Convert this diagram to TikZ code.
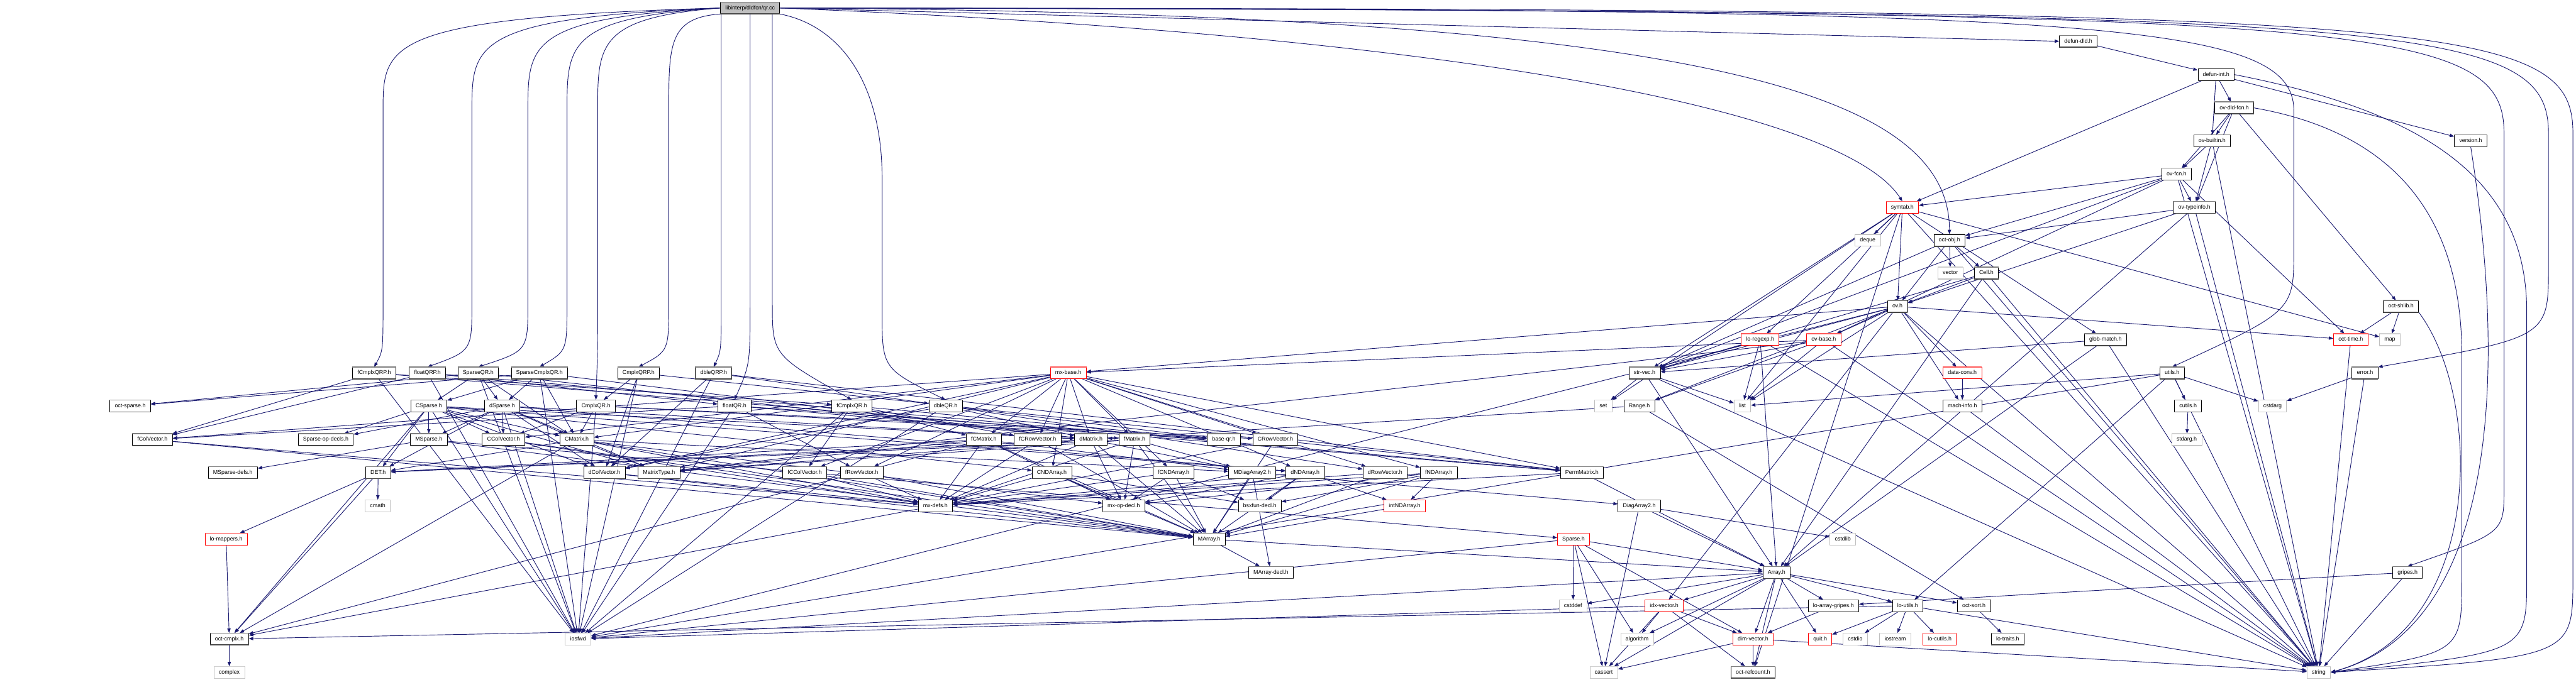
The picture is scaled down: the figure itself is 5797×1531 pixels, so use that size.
\documentclass[tikz,border=0pt]{standalone}
\usepackage{fontspec}
\setmainfont{Liberation Sans}
\usetikzlibrary{arrows.meta}
\definecolor{edgeblue}{RGB}{25,25,112}
\definecolor{rbd}{RGB}{255,0,0}
\definecolor{gbd}{RGB}{191,191,191}
\pgfdeclarelayer{bgl}\pgfdeclarelayer{edl}\pgfsetlayers{bgl,edl,main}
\tikzset{
 base/.style={rectangle, inner xsep=11pt, inner ysep=0pt, minimum height=26pt, text height=9.3pt, text depth=2.7pt, font=\fontsize{12.6}{14}\selectfont, line width=1.1pt, fill=white},
 nbox/.style={base, draw=black},
 rbox/.style={base, draw=rbd},
 gbox/.style={base, draw=gbd},
 qbox/.style={base, draw=black, fill=black!25},
 edg/.style={draw=edgeblue, line width=1.3pt, -{Triangle[length=10pt,width=7.5pt]}},
}
\newcommand\qrdown[3]{\draw[edg] (qr.#3) .. controls (#2,40) and (#2,100) .. (#2,250) -- (#2,680) .. controls (#2,790) .. (#1.north);}
\begin{document}
\begin{tikzpicture}[x=1pt,y=-1pt]
\begin{pgfonlayer}{bgl}
\fill[white] (0,0) rectangle (5797,1531);
\end{pgfonlayer}
\useasboundingbox (0,0) rectangle (5797,1531);
% nodes
\node[qbox] (qr) at (1688,18) {libinterp/dldfcn/qr.cc};
\node[nbox] (fcqrp) at (842,840) {fCmplxQRP.h};
\node[nbox] (flqrp) at (962,840) {floatQRP.h};
\node[nbox] (sqr) at (1076,840) {SparseQR.h};
\node[nbox] (scqr) at (1214,840) {SparseCmplxQR.h};
\node[nbox] (cqrp) at (1437,840) {CmplxQRP.h};
\node[nbox] (dqrp) at (1606,840) {dbleQRP.h};
\node[rbox] (mxbase) at (2404,840) {mx-base.h};
\node[nbox] (octsparse) at (293,914) {oct-sparse.h};
\node[nbox] (csparse) at (965,914) {CSparse.h};
\node[nbox] (dsparse) at (1130,914) {dSparse.h};
\node[nbox] (cqr) at (1341,914) {CmplxQR.h};
\node[nbox] (flqr) at (1653,914) {floatQR.h};
\node[nbox] (fcqr) at (1917,914) {fCmplxQR.h};
\node[nbox] (dqr) at (2128,914) {dbleQR.h};
\node[nbox] (fcolv) at (343,990) {fColVector.h};
\node[nbox] (spopd) at (733,990) {Sparse-op-decls.h};
\node[nbox] (msparse) at (965,990) {MSparse.h};
\node[nbox] (ccolv) at (1133,990) {CColVector.h};
\node[nbox] (cmat) at (1298,990) {CMatrix.h};
\node[nbox] (fcmat) at (2214,990) {fCMatrix.h};
\node[nbox] (fcrowv) at (2335,990) {fCRowVector.h};
\node[nbox] (dmat) at (2455,990) {dMatrix.h};
\node[nbox] (fmat) at (2553,990) {fMatrix.h};
\node[nbox] (baseqr) at (2754,990) {base-qr.h};
\node[nbox] (crowv) at (2870,990) {CRowVector.h};
\node[nbox] (msdefs) at (524,1064) {MSparse-defs.h};
\node[nbox] (det) at (851,1064) {DET.h};
\node[nbox] (dcolv) at (1360,1064) {dColVector.h};
\node[nbox] (mtype) at (1483,1064) {MatrixType.h};
\node[nbox] (fccolv) at (1811,1064) {fCColVector.h};
\node[nbox] (frowv) at (1939,1064) {fRowVector.h};
\node[nbox] (cnd) at (2367,1064) {CNDArray.h};
\node[nbox] (fcnd) at (2641,1064) {fCNDArray.h};
\node[nbox] (mdiag) at (2818,1064) {MDiagArray2.h};
\node[nbox] (dnd) at (2937,1064) {dNDArray.h};
\node[nbox] (drowv) at (3117,1064) {dRowVector.h};
\node[nbox] (fnd) at (3238,1064) {fNDArray.h};
\node[nbox] (perm) at (3560,1064) {PermMatrix.h};
\node[gbox] (cmath) at (850,1139) {cmath};
\node[nbox] (mxdefs) at (2105,1139) {mx-defs.h};
\node[nbox] (mxop) at (2529,1139) {mx-op-decl.h};
\node[nbox] (bsx) at (2835,1139) {bsxfun-decl.h};
\node[rbox] (intnd) at (3161,1139) {intNDArray.h};
\node[nbox] (diag2) at (3689,1139) {DiagArray2.h};
\node[rbox] (lomap) at (509,1214) {lo-mappers.h};
\node[nbox] (marray) at (2721,1214) {MArray.h};
\node[rbox] (sparse) at (3541,1214) {Sparse.h};
\node[gbox] (cstdlib) at (4147,1214) {cstdlib};
\node[nbox] (mdecl) at (2860,1289) {MArray-decl.h};
\node[nbox] (array) at (3998,1289) {Array.h};
\node[nbox] (gripes) at (5418,1289) {gripes.h};
\node[gbox] (cstddef) at (3540,1364) {cstddef};
\node[rbox] (idx) at (3745,1364) {idx-vector.h};
\node[nbox] (loag) at (4126,1364) {lo-array-gripes.h};
\node[nbox] (loutils) at (4293,1364) {lo-utils.h};
\node[nbox] (octsort) at (4442,1364) {oct-sort.h};
\node[nbox] (cmplx) at (516,1439) {oct-cmplx.h};
\node[gbox] (iosfwd) at (1301,1439) {iosfwd};
\node[gbox] (algo) at (3684,1439) {algorithm};
\node[rbox] (dimv) at (3945,1439) {dim-vector.h};
\node[rbox] (quit) at (4096,1439) {quit.h};
\node[gbox] (cstdio) at (4175,1439) {cstdio};
\node[gbox] (iostream) at (4265,1439) {iostream};
\node[rbox] (locutils) at (4365,1439) {lo-cutils.h};
\node[nbox] (lotraits) at (4518,1439) {lo-traits.h};
\node[gbox] (complex) at (516,1514) {complex};
\node[gbox] (cassert) at (3609,1514) {cassert};
\node[nbox] (refc) at (3945,1514) {oct-refcount.h};
\node[gbox] (string) at (5218,1514) {string};
\node[nbox] (dld) at (4677,93) {defun-dld.h};
\node[nbox] (dint) at (4987,168) {defun-int.h};
\node[nbox] (ovdld) at (5028,243) {ov-dld-fcn.h};
\node[nbox] (ovbuiltin) at (4978,317) {ov-builtin.h};
\node[nbox] (version) at (5560,317) {version.h};
\node[nbox] (ovfcn) at (4898,392) {ov-fcn.h};
\node[nbox] (ovtype) at (4938,467) {ov-typeinfo.h};
\node[rbox] (symtab) at (4281,467) {symtab.h};
\node[gbox] (deque) at (4203,541) {deque};
\node[nbox] (octobj) at (4387,541) {oct-obj.h};
\node[gbox] (vector) at (4389,615) {vector};
\node[nbox] (cell) at (4470,615) {Cell.h};
\node[nbox] (ov) at (4270,690) {ov.h};
\node[nbox] (shlib) at (5403,690) {oct-shlib.h};
\node[rbox] (loregexp) at (3961,765) {lo-regexp.h};
\node[rbox] (ovbase) at (4104,765) {ov-base.h};
\node[nbox] (glob) at (4738,765) {glob-match.h};
\node[rbox] (octtime) at (5290,765) {oct-time.h};
\node[gbox] (map) at (5378,765) {map};
\node[nbox] (strvec) at (3701,840) {str-vec.h};
\node[rbox] (dataconv) at (4416,840) {data-conv.h};
\node[nbox] (utils) at (4888,840) {utils.h};
\node[nbox] (error) at (5322,840) {error.h};
\node[gbox] (set) at (3608,914) {set};
\node[nbox] (range) at (3689,914) {Range.h};
\node[gbox] (list) at (3921,914) {list};
\node[nbox] (machinfo) at (4416,914) {mach-info.h};
\node[nbox] (cutils) at (4924,914) {cutils.h};
\node[gbox] (cstdarg) at (5114,914) {cstdarg};
\node[gbox] (stdarg) at (4921,990) {stdarg.h};
% box shading
\foreach \n in {qr,fcqrp,flqrp,sqr,scqr,cqrp,dqrp,octsparse,csparse,dsparse,cqr,flqr,fcqr,dqr,fcolv,spopd,msparse,ccolv,cmat,fcmat,fcrowv,dmat,fmat,baseqr,crowv,msdefs,det,dcolv,mtype,fccolv,frowv,cnd,fcnd,mdiag,dnd,drowv,fnd,perm,mxdefs,mxop,bsx,diag2,marray,mdecl,array,gripes,loag,loutils,octsort,cmplx,lotraits,refc,dld,dint,ovdld,ovbuiltin,version,ovfcn,ovtype,octobj,cell,ov,shlib,glob,strvec,utils,error,range,machinfo,cutils}{
 \draw[line width=2.4pt, black!72] (\n.south west) -- (\n.south east);
 \draw[line width=1.8pt, black!50] (\n.north west) -- (\n.north east);
}
\foreach \n in {mxbase,intnd,lomap,sparse,idx,dimv,quit,locutils,symtab,loregexp,ovbase,octtime,dataconv}{
 \draw[line width=1.8pt, red!65] (\n.north west) -- (\n.north east);
}
\foreach \n in {cmath,cstdlib,cstddef,iosfwd,algo,cstdio,iostream,complex,cassert,string,deque,vector,map,set,list,cstdarg,stdarg}{
 \draw[line width=1.8pt, black!18] (\n.north west) -- (\n.north east);
 \draw[line width=1.8pt, black!22] (\n.south west) -- (\n.south east);
}
% edges
\begin{pgfonlayer}{edl}
\qrdown{fcqrp}{862}{west}
\qrdown{flqrp}{1062}{west}
\qrdown{sqr}{1188}{west}
\qrdown{scqr}{1276}{west}
\qrdown{cqr}{1345}{west}
\qrdown{cqrp}{1505}{south west}
\draw[edg] (qr.south -| 1623,0) -- (1623,680) .. controls (1623,790) .. (dqrp.north);
\draw[edg] (qr.south -| 1688,0) -- (1688,680) .. controls (1688,820) .. (flqr.north);
\draw[edg] (qr.south -| 1738,0) -- (1738,680) .. controls (1738,800) .. (fcqr.north);
\draw[edg] (qr.south east) .. controls (1900,60) and (1985,200) .. (1985,400) -- (1985,700) .. controls (1985,830) .. (dqr.north);
\draw[edg] (qr.east) -- (dld.west);
\draw[edg] (qr.east) .. controls (3300,80) and (4150,250) .. (symtab.north);
\draw[edg] (qr.east) .. controls (3800,30) and (4387,200) .. (octobj.north);
\draw[edg] (qr.east) .. controls (4700,20) and (5162,40) .. (5162,250) -- (5162,560) .. controls (5162,700) .. (utils.north);
\draw[edg] (qr.east) .. controls (5300,25) and (5635,40) .. (5635,300) -- (5635,1100) .. controls (5635,1200) .. (gripes.north);
\draw[edg] (qr.east) .. controls (5400,25) and (5735,40) .. (5735,300) -- (5735,600) .. controls (5735,760) .. (error.north east);
\draw[edg] (qr.east) .. controls (5500,20) and (5790,40) .. (5790,300) -- (5790,1300) .. controls (5790,1480) .. (string.east);
\draw[edg] (dint.east) .. controls (5450,250) and (5686,400) .. (5686,700) -- (5686,1300) .. controls (5686,1470) .. (string.east);
\draw[edg] (ovdld.east) .. controls (5400,300) and (5540,500) .. (5540,800) -- (5540,1300) .. controls (5540,1470) .. (string.east);
\draw[edg] (version.south) .. controls (5650,900) and (5600,1420) .. (string.east);
\draw[edg] (shlib.south east) .. controls (5590,900) and (5590,1420) .. (string.east);
\foreach \a/\b in {
fcqrp/fcqr, fcqrp/perm, fcqrp/fcolv, fcqrp/iosfwd,
flqrp/flqr, flqrp/perm, flqrp/fcolv, flqrp/iosfwd,
sqr/csparse, sqr/dsparse, sqr/dmat, sqr/cmat, sqr/octsparse, sqr/iosfwd,
scqr/csparse, scqr/dsparse, scqr/cmat, scqr/dmat, scqr/octsparse, scqr/iosfwd,
cqrp/cqr, cqrp/perm, cqrp/dcolv, cqrp/iosfwd,
dqrp/dqr, dqrp/perm, dqrp/dcolv, dqrp/iosfwd,
cqr/cmat, cqr/ccolv, cqr/crowv, cqr/baseqr, cqr/iosfwd,
flqr/fmat, flqr/fcolv, flqr/frowv, flqr/baseqr, flqr/iosfwd,
fcqr/fcmat, fcqr/fccolv, fcqr/fcrowv, fcqr/baseqr, fcqr/iosfwd,
dqr/dmat, dqr/dcolv, dqr/drowv, dqr/baseqr, dqr/iosfwd,
csparse/msparse, csparse/ccolv, csparse/cmat, csparse/spopd, csparse/dmat, csparse/dnd, csparse/cnd, csparse/dcolv, csparse/det, csparse/mtype, csparse/cmplx, csparse/iosfwd,
dsparse/msparse, dsparse/ccolv, dsparse/cmat, dsparse/spopd, dsparse/dmat, dsparse/dnd, dsparse/dcolv, dsparse/det, dsparse/mtype, dsparse/iosfwd,
msparse/marray, msparse/sparse, msparse/msdefs,
fcolv/marray, fcolv/mxdefs,
ccolv/marray, ccolv/mxdefs,
cmat/marray, cmat/mdiag, cmat/mtype, cmat/mxdefs, cmat/mxop, cmat/cmplx, cmat/det,
fcmat/marray, fcmat/mdiag, fcmat/mtype, fcmat/mxdefs, fcmat/mxop, fcmat/cmplx, fcmat/det,
fcrowv/marray, fcrowv/mxdefs,
dmat/marray, dmat/mdiag, dmat/mtype, dmat/mxdefs, dmat/mxop, dmat/det,
fmat/marray, fmat/mdiag, fmat/mtype, fmat/mxdefs, fmat/mxop, fmat/det,
crowv/marray, crowv/mxdefs,
det/cmath, det/lomap, det/cmplx,
dcolv/marray, dcolv/mxdefs,
fccolv/marray, fccolv/mxdefs,
frowv/marray, frowv/mxdefs,
drowv/marray, drowv/mxdefs,
cnd/marray, cnd/mxdefs, cnd/mxop, cnd/bsx,
fcnd/marray, fcnd/mxdefs, fcnd/mxop, fcnd/bsx,
dnd/marray, dnd/intnd, dnd/mxdefs, dnd/mxop, dnd/bsx,
fnd/marray, fnd/intnd, fnd/mxdefs, fnd/mxop, fnd/bsx,
mdiag/diag2, mdiag/marray, mdiag/mdecl,
perm/array, perm/mxdefs,
mxdefs/cmplx, intnd/marray,
diag2/array, diag2/cstdlib, diag2/cassert,
lomap/cmplx,
marray/mdecl, marray/array,
sparse/array, sparse/cassert, sparse/cstddef, sparse/algo, sparse/dimv, sparse/iosfwd,
array/cassert, array/cstddef, array/algo, array/iosfwd, array/dimv, array/idx, array/loag, array/loutils, array/octsort, array/quit, array/refc,
idx/cassert, idx/algo, idx/iosfwd, idx/dimv, idx/refc,
loag/dimv,
loutils/cstdio, loutils/iostream, loutils/string, loutils/quit, loutils/locutils, loutils/cmplx,
octsort/lotraits,
dimv/cassert, dimv/refc, dimv/string,
cmplx/complex,
gripes/loag, gripes/string,
dld/dint,
dint/ovdld, dint/ovbuiltin, dint/version, dint/symtab,
ovdld/ovfcn, ovdld/ovbuiltin, ovdld/ovtype, ovdld/shlib,
ovbuiltin/ovfcn, ovbuiltin/ovtype, ovbuiltin/string,
ovfcn/ovbase, ovfcn/ovtype, ovfcn/octobj, ovfcn/symtab, ovfcn/strvec, ovfcn/octtime, ovfcn/string,
ovtype/ov, ovtype/octobj, ovtype/array, ovtype/string,
symtab/deque, symtab/ov, symtab/strvec, symtab/loregexp, symtab/glob, symtab/list, symtab/set, symtab/map, symtab/string, symtab/refc,
octobj/vector, octobj/cell, octobj/strvec, octobj/ov, octobj/string,
cell/array, cell/strvec, cell/ov, cell/string,
ov/ovbase, ov/strvec, ov/range, ov/list, ov/mxbase, ov/dataconv, ov/machinfo, ov/idx, ov/octtime, ov/string, ov/iosfwd,
ovbase/range, ovbase/strvec, ovbase/list, ovbase/mxbase, ovbase/string, ovbase/mtype,
loregexp/strvec, loregexp/list, loregexp/string, loregexp/array,
strvec/set, strvec/list, strvec/string, strvec/array,
range/dmat, range/octsort,
glob/array, glob/strvec, glob/string,
dataconv/machinfo, machinfo/string, octtime/string,
shlib/octtime, shlib/map,
utils/cutils, utils/cstdarg, utils/string, utils/list, utils/iosfwd, utils/loutils,
error/cstdarg, error/string,
cutils/stdarg,
mxbase/fcmat, mxbase/fcrowv, mxbase/dmat, mxbase/fmat, mxbase/crowv, mxbase/cmat, mxbase/ccolv, mxbase/dcolv, mxbase/drowv, mxbase/fcolv, mxbase/fccolv, mxbase/frowv, mxbase/cnd, mxbase/fcnd, mxbase/dnd, mxbase/fnd, mxbase/perm, mxbase/mtype}
{\draw[edg] (\a) -- (\b);}
\end{pgfonlayer}
\end{tikzpicture}
\end{document}
